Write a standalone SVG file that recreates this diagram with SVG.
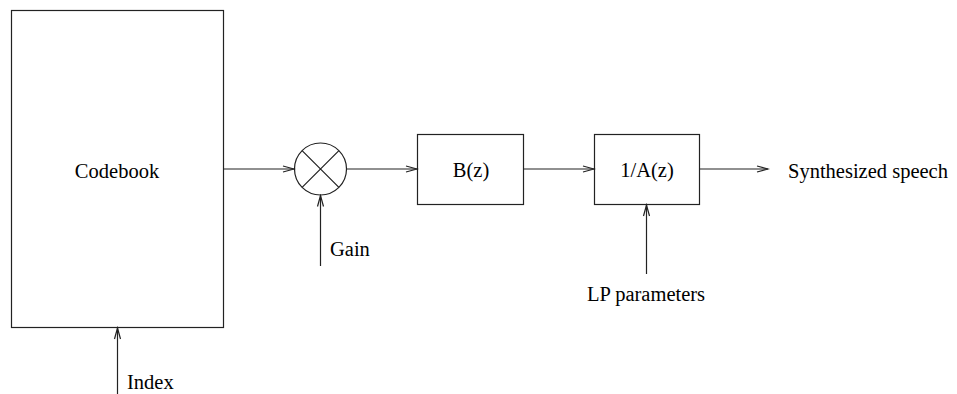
<svg xmlns="http://www.w3.org/2000/svg" width="957" height="394" viewBox="0 0 957 394">
  <style>
    .box { fill: #fff; stroke: #222; stroke-width: 1.2; }
    .wire { fill: none; stroke: #222; stroke-width: 1.2; }
    .lbl { font-family: "Liberation Serif", "Times New Roman", serif; font-size: 20.5px; fill: #000; }
  </style>
  <defs>
    <marker id="arrow" markerWidth="14" markerHeight="10" refX="12" refY="5" orient="auto" markerUnits="userSpaceOnUse">
      <path d="M1,2 L12,5 L1,8" fill="none" stroke="#222" stroke-width="1.2"/>
    </marker>
  </defs>
  <rect width="957" height="394" fill="#fff"/>

  <g id="codebook">
    <rect class="box" x="11.5" y="10.5" width="212" height="317"/>
    <text class="lbl" x="117" y="178" text-anchor="middle">Codebook</text>
  </g>

  <g id="multiplier">
    <circle class="box" cx="320.5" cy="169" r="26"/>
    <path class="wire" d="M302.1,150.6 L338.9,187.4 M338.9,150.6 L302.1,187.4"/>
  </g>

  <g id="bz">
    <rect class="box" x="417.5" y="134.5" width="106" height="70"/>
    <text class="lbl" x="471" y="177" text-anchor="middle">B(z)</text>
  </g>

  <g id="inv-az">
    <rect class="box" x="594.5" y="134.5" width="105" height="70"/>
    <text class="lbl" x="647" y="177" text-anchor="middle">1/A(z)</text>
  </g>

  <g id="out-label">
    <text class="lbl" x="788" y="178">Synthesized speech</text>
  </g>
  <g id="gain-label">
    <text class="lbl" x="330" y="256">Gain</text>
  </g>
  <g id="lp-label">
    <text class="lbl" x="646" y="301" text-anchor="middle">LP parameters</text>
  </g>
  <g id="index-label">
    <text class="lbl" x="127" y="389">Index</text>
  </g>

  <g id="connectors">
    <line class="wire" x1="223.5" y1="169" x2="294" y2="169" marker-end="url(#arrow)"/>
    <line class="wire" x1="346.5" y1="169" x2="417" y2="169" marker-end="url(#arrow)"/>
    <line class="wire" x1="523.5" y1="169" x2="594" y2="169" marker-end="url(#arrow)"/>
    <line class="wire" x1="699.5" y1="169" x2="768" y2="169" marker-end="url(#arrow)"/>
    <line class="wire" x1="320.5" y1="266" x2="320.5" y2="195.5" marker-end="url(#arrow)"/>
    <line class="wire" x1="646.5" y1="274" x2="646.5" y2="205" marker-end="url(#arrow)"/>
    <line class="wire" x1="117.5" y1="394" x2="117.5" y2="328" marker-end="url(#arrow)"/>
  </g>
</svg>
